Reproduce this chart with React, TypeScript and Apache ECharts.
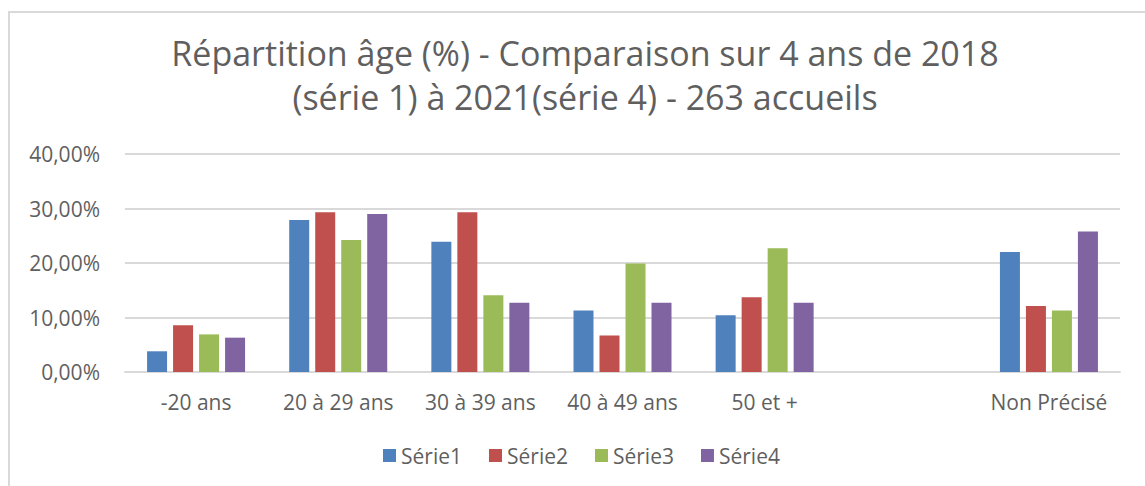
import React, { useEffect, useRef } from "react";
import * as echarts from "echarts";

const categories = ["-20 ans", "20 à 29 ans", "30 à 39 ans", "40 à 49 ans", "50 et +", "", "Non Précisé"];
const serie1 = [3.8, 27.9, 23.9, 11.3, 10.4, null, 22.0];
const serie2 = [8.6, 29.3, 29.3, 6.7, 13.7, null, 12.1];
const serie3 = [6.9, 24.2, 14.1, 19.9, 22.7, null, 11.3];
const serie4 = [6.3, 29.0, 12.7, 12.7, 12.7, null, 25.8];
const seriesNames = ["Série1", "Série2", "Série3", "Série4"];
const colors = ["#4F81BD", "#C0504D", "#9BBB59", "#8064A2"];
const titleLines = [
  "Répartition âge (%) - Comparaison sur 4 ans de 2018",
  "(série 1) à 2021(série 4) - 263 accueils",
];

const FONT = "'Open Sans', sans-serif";

export default function App() {
  const ref = useRef<HTMLDivElement>(null);
  useEffect(() => {
    if (!ref.current) return;
    const chart = echarts.init(ref.current, null, { renderer: "svg" });
    const allData = [serie1, serie2, serie3, serie4];
    chart.setOption({
      animation: false,
      backgroundColor: "#ffffff",
      color: colors,
      graphic: [
        {
          type: "rect",
          shape: { x: 9, y: 12, width: 1300, height: 700 },
          style: { fill: "none", stroke: "#d9d9d9", lineWidth: 2 },
          silent: true,
        },
      ],
      title: {
        text: titleLines.join("\n"),
        left: 580,
        textAlign: "center",
        top: 26,
        textStyle: {
          fontFamily: FONT,
          fontSize: 34,
          fontWeight: "normal",
          color: "#5f5f5f",
          lineHeight: 44,
        },
      },
      legend: {
        bottom: 15,
        left: 378,
        itemWidth: 13,
        itemHeight: 13,
        itemGap: 27,
        icon: "rect",
        textStyle: { fontFamily: FONT, fontSize: 21, color: "#5f5f5f" },
        data: seriesNames,
      },
      grid: { left: 125, right: 25, top: 154, bottom: 114 },
      xAxis: {
        type: "category",
        data: categories,
        axisTick: { show: false },
        axisLine: { lineStyle: { color: "#d9d9d9", width: 2 } },
        axisLabel: { fontFamily: FONT, fontSize: 21, color: "#5f5f5f", margin: 19, interval: 0 },
      },
      yAxis: {
        type: "value",
        min: 0,
        max: 40,
        interval: 10,
        axisLine: { show: false },
        axisTick: { show: false },
        splitLine: { lineStyle: { color: "#d9d9d9", width: 2 } },
        axisLabel: {
          fontFamily: FONT,
          fontSize: 21,
          color: "#5f5f5f",
          margin: 25,
          formatter: (v: number) => v.toFixed(2).replace(".", ",") + "%",
        },
      },
      series: seriesNames.map((name, i) => ({
        name,
        type: "bar",
        data: allData[i].map((v) => (v === null ? "-" : v)),
        barWidth: 20,
        barGap: "30%",
        itemStyle: { color: colors[i] },
      })),
    });
    return () => chart.dispose();
  }, []);
  return (
    <div
      ref={ref}
      style={{ position: "absolute", left: 0, top: 0, width: 1145, height: 486 }}
    />
  );
}
